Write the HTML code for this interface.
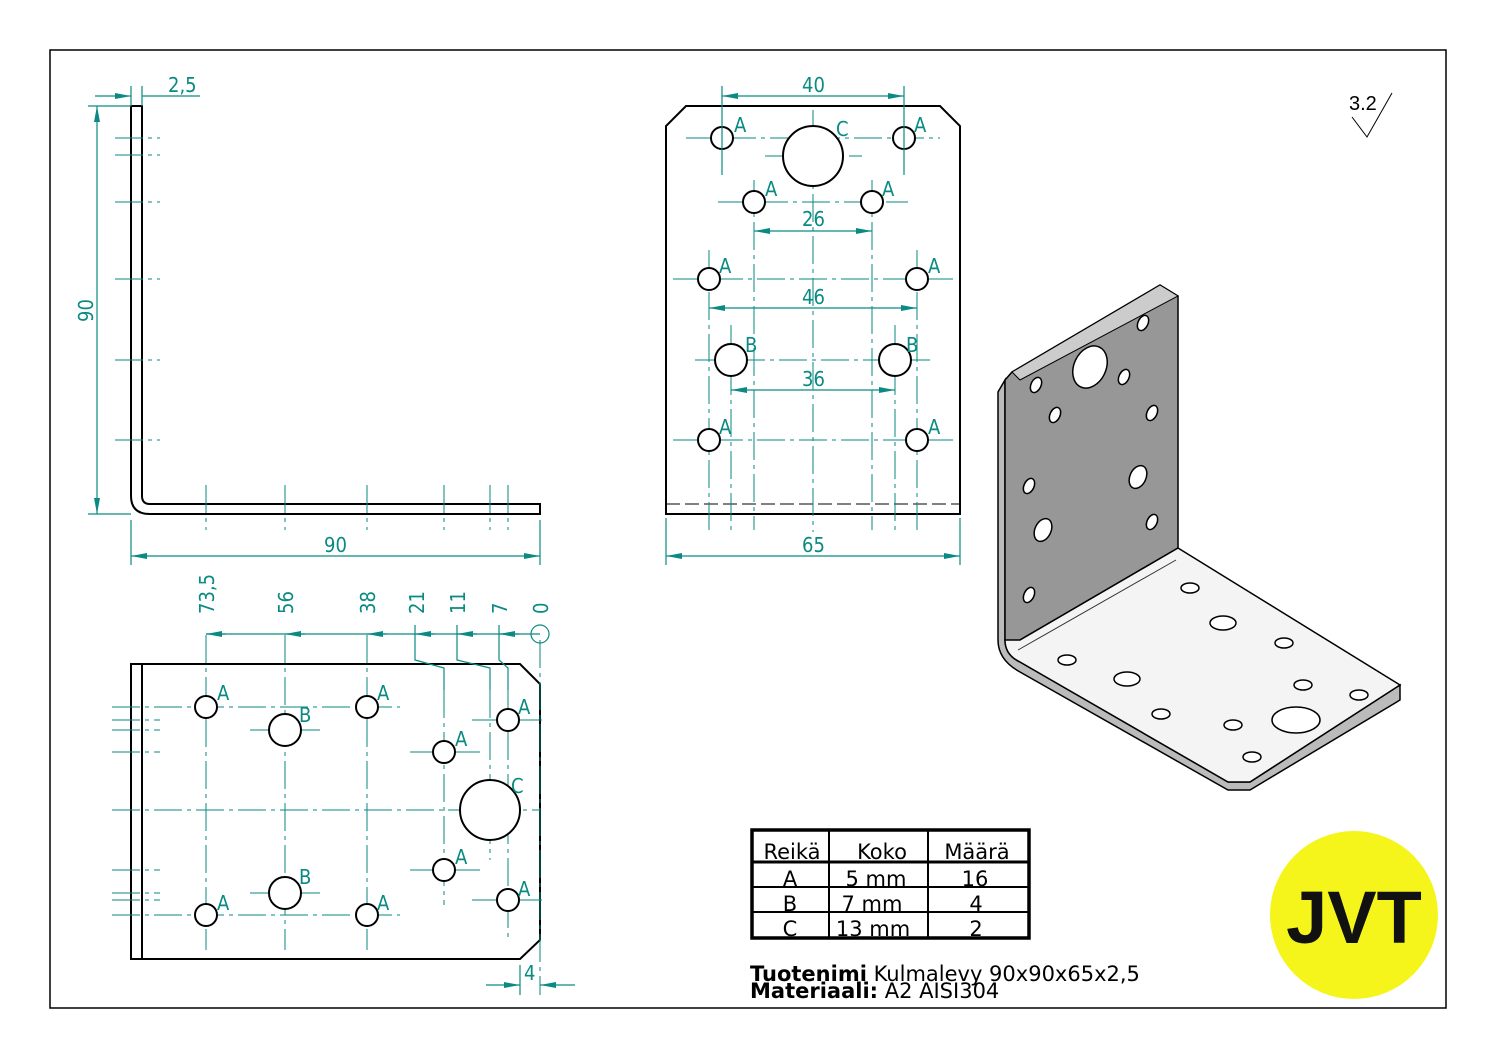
<!DOCTYPE html>
<html><head><meta charset="utf-8"><style>
html,body{margin:0;padding:0;background:#fff;}
svg{display:block;}
.t{font-family:"DejaVu Sans Condensed","Liberation Sans Narrow","Liberation Sans",sans-serif;fill:#0a8a82;font-size:20px;}
.d{stroke:#0a8a82;stroke-width:1.2;fill:none;}
.c{stroke:#0a8a82;stroke-width:1;fill:none;stroke-dasharray:28 5 4 5;}
.k{stroke:#000;stroke-width:2;fill:none;}
.h{stroke:#000;stroke-width:2;fill:#fff;}
.tb{font-family:"DejaVu Sans","Liberation Sans",sans-serif;font-size:21px;fill:#000;}
</style></head><body>
<svg width="1497" height="1058" viewBox="0 0 1497 1058" xmlns="http://www.w3.org/2000/svg">
<defs>
<marker id="a" viewBox="0 0 16 6" refX="16" refY="3" markerWidth="16" markerHeight="6" markerUnits="userSpaceOnUse" orient="auto-start-reverse"><path d="M0,0L16,3L0,6z" fill="#0a8a82"/></marker>
</defs>
<rect x="50" y="50" width="1396" height="958" fill="none" stroke="#000" stroke-width="1.5"/>

<!-- Side L view -->
<path class="k" d="M131,106 H142 V496 Q142,504 150,504 H540 V514 H150 Q131,514 131,496 Z"/>
<g class="d">
<line x1="97" y1="106" x2="97" y2="514" marker-start="url(#a)" marker-end="url(#a)"/>
<line x1="88" y1="106" x2="131" y2="106"/><line x1="88" y1="514" x2="131" y2="514"/>
<line x1="131" y1="556" x2="540" y2="556" marker-start="url(#a)" marker-end="url(#a)"/>
<line x1="131" y1="520" x2="131" y2="565"/><line x1="540" y1="520" x2="540" y2="565"/>
<line x1="131" y1="86" x2="131" y2="106"/><line x1="142" y1="86" x2="142" y2="106"/>
<line x1="95" y1="96" x2="131" y2="96" marker-end="url(#a)"/><line x1="142" y1="96" x2="200" y2="96"/>
</g>
<text class="t" x="168" y="92">2,5</text>
<text class="t" transform="translate(93,322) rotate(-90)">90</text>
<text class="t" x="324" y="552">90</text>
<g class="c">
<line x1="115" y1="138" x2="160" y2="138"/><line x1="115" y1="155" x2="160" y2="155"/><line x1="115" y1="202" x2="160" y2="202"/><line x1="115" y1="279" x2="160" y2="279"/><line x1="115" y1="360" x2="160" y2="360"/><line x1="115" y1="440" x2="160" y2="440"/>
<line x1="206" y1="485" x2="206" y2="530"/><line x1="285" y1="485" x2="285" y2="530"/><line x1="367" y1="485" x2="367" y2="530"/><line x1="444" y1="485" x2="444" y2="530"/><line x1="490" y1="485" x2="490" y2="530"/><line x1="508" y1="485" x2="508" y2="530"/>
</g>

<!-- Front view -->
<path class="k" d="M686,106 H940 L960,126 V514 H666 V126 Z"/>
<line x1="666" y1="504" x2="960" y2="504" stroke="#000" stroke-width="1" stroke-dasharray="14 5"/>
<g class="c">
<line x1="813" y1="110" x2="813" y2="532"/>
<line x1="686" y1="138" x2="940" y2="138"/><line x1="765" y1="156" x2="862" y2="156"/>
<line x1="718" y1="202" x2="908" y2="202"/><line x1="673" y1="279" x2="953" y2="279"/>
<line x1="695" y1="360" x2="930" y2="360"/><line x1="673" y1="440" x2="953" y2="440"/>
<line x1="709" y1="250" x2="709" y2="530"/><line x1="917" y1="250" x2="917" y2="530"/>
<line x1="731" y1="325" x2="731" y2="530"/><line x1="895" y1="325" x2="895" y2="530"/>
<line x1="754" y1="180" x2="754" y2="530"/><line x1="872" y1="180" x2="872" y2="530"/>
</g>
<g class="h">
<circle cx="722" cy="138" r="11"/><circle cx="904" cy="138" r="11"/><circle cx="813" cy="156" r="30"/>
<circle cx="754" cy="202" r="11"/><circle cx="872" cy="202" r="11"/>
<circle cx="709" cy="279" r="11"/><circle cx="917" cy="279" r="11"/>
<circle cx="731" cy="360" r="16"/><circle cx="895" cy="360" r="16"/>
<circle cx="709" cy="440" r="11"/><circle cx="917" cy="440" r="11"/>
</g>
<g class="d">
<line x1="722" y1="86" x2="722" y2="175"/><line x1="904" y1="86" x2="904" y2="175"/>
<line x1="722" y1="96" x2="904" y2="96" marker-start="url(#a)" marker-end="url(#a)"/>
<line x1="754" y1="231" x2="872" y2="231" marker-start="url(#a)" marker-end="url(#a)"/>
<line x1="709" y1="308" x2="917" y2="308" marker-start="url(#a)" marker-end="url(#a)"/>
<line x1="731" y1="390" x2="895" y2="390" marker-start="url(#a)" marker-end="url(#a)"/>
<line x1="666" y1="518" x2="666" y2="565"/><line x1="960" y1="518" x2="960" y2="565"/>
<line x1="666" y1="556" x2="960" y2="556" marker-start="url(#a)" marker-end="url(#a)"/>
</g>
<text class="t" x="802" y="92">40</text><text class="t" x="802" y="226">26</text><text class="t" x="802" y="304">46</text><text class="t" x="802" y="386">36</text><text class="t" x="802" y="552">65</text>
<g class="t" font-size="17"><text x="734" y="132">A</text><text x="914" y="132">A</text><text x="836" y="136">C</text><text x="765" y="196">A</text><text x="882" y="196">A</text><text x="719" y="273">A</text><text x="928" y="273">A</text><text x="745" y="352">B</text><text x="906" y="352">B</text><text x="719" y="434">A</text><text x="928" y="434">A</text></g>

<!-- Bottom view -->
<path class="k" d="M131,664 H520 L540,684 V940 L520,959 H131 Z"/>
<line x1="142" y1="664" x2="142" y2="959" stroke="#000" stroke-width="2"/>
<g class="c">
<line x1="206" y1="635" x2="206" y2="950"/><line x1="285" y1="635" x2="285" y2="950"/><line x1="367" y1="635" x2="367" y2="950"/>
<line x1="444" y1="690" x2="444" y2="905"/><line x1="490" y1="690" x2="490" y2="860"/><line x1="508" y1="690" x2="508" y2="940"/>
<line x1="540" y1="640" x2="540" y2="995"/>
<line x1="112" y1="707" x2="400" y2="707"/><line x1="112" y1="915" x2="400" y2="915"/>
<line x1="250" y1="730" x2="320" y2="730"/><line x1="250" y1="893" x2="320" y2="893"/>
<line x1="410" y1="752" x2="480" y2="752"/><line x1="410" y1="870" x2="480" y2="870"/>
<line x1="112" y1="810" x2="540" y2="810"/><line x1="472" y1="720" x2="543" y2="720"/><line x1="472" y1="900" x2="543" y2="900"/>
<line x1="112" y1="720" x2="160" y2="720"/><line x1="112" y1="730" x2="160" y2="730"/><line x1="112" y1="752" x2="160" y2="752"/><line x1="112" y1="870" x2="160" y2="870"/><line x1="112" y1="893" x2="160" y2="893"/><line x1="112" y1="900" x2="160" y2="900"/>
</g>
<g class="h">
<circle cx="206" cy="707" r="11"/><circle cx="367" cy="707" r="11"/><circle cx="285" cy="730" r="16"/><circle cx="285" cy="893" r="16"/>
<circle cx="206" cy="915" r="11"/><circle cx="367" cy="915" r="11"/><circle cx="444" cy="752" r="11"/><circle cx="444" cy="870" r="11"/>
<circle cx="490" cy="810" r="30"/><circle cx="508" cy="720" r="11"/><circle cx="508" cy="900" r="11"/>
</g>
<g class="d">
<line x1="540" y1="634" x2="206" y2="634"/>
<line x1="305" y1="634" x2="285" y2="634" marker-end="url(#a)"/><line x1="226" y1="634" x2="206" y2="634" marker-end="url(#a)"/>
<line x1="387" y1="634" x2="367" y2="634" marker-end="url(#a)"/><line x1="435" y1="634" x2="415" y2="634" marker-end="url(#a)"/>
<line x1="477" y1="634" x2="457" y2="634" marker-end="url(#a)"/><line x1="519" y1="634" x2="499" y2="634" marker-end="url(#a)"/>
<circle cx="540" cy="634" r="9"/>
<polyline points="415,625 415,660 444,668 444,690"/><polyline points="457,625 457,660 490,668 490,690"/><polyline points="499,625 499,660 508,668 508,690"/>
<line x1="520" y1="965" x2="520" y2="995"/>
<line x1="486" y1="985" x2="520" y2="985" marker-end="url(#a)"/><line x1="575" y1="985" x2="540" y2="985" marker-end="url(#a)"/>
</g>
<g class="t"><text transform="translate(214,614) rotate(-90)">73,5</text><text transform="translate(293,614) rotate(-90)">56</text><text transform="translate(375,614) rotate(-90)">38</text><text transform="translate(424,614) rotate(-90)">21</text><text transform="translate(465,614) rotate(-90)">11</text><text transform="translate(507,614) rotate(-90)">7</text><text transform="translate(548,614) rotate(-90)">0</text><text x="524" y="980">4</text></g>
<g class="t" font-size="17"><text x="217" y="700">A</text><text x="377" y="700">A</text><text x="299" y="722">B</text><text x="299" y="884">B</text><text x="217" y="910">A</text><text x="377" y="910">A</text><text x="455" y="746">A</text><text x="455" y="864">A</text><text x="511" y="793">C</text><text x="518" y="714">A</text><text x="518" y="896">A</text></g>

<!-- 3D -->
<path d="M1020,662 L1228,782 L1250,782 L1400,685 L1400,700 L1250,790 L1228,790 L1020,672 Q998,660 998,640 V392 L1005,380 V640 Q1005,655 1020,662Z" fill="#bbb" stroke="#000" stroke-width="1.5"/>
<path d="M1005,380 L1012,372 L1160,285 L1178,296 L1178,548 L1020,640 Q1008,645 1005,640 Z" fill="#979797" stroke="#000" stroke-width="1.5"/>
<path d="M1012,372 L1160,285 L1178,296 L1020,380 Z" fill="#ccc" stroke="#000" stroke-width="1"/>
<path d="M1178,548 L1400,685 L1250,782 L1228,782 L1020,662 Q1005,655 1005,640 Q1012,640 1020,640 Z" fill="#f4f4f4" stroke="#000" stroke-width="1.5"/>
<line x1="1018" y1="650" x2="1176" y2="560" stroke="#333" stroke-width="1"/>
<g fill="#fff" stroke="#000" stroke-width="1.5">
<ellipse cx="1143" cy="323" rx="5" ry="8" transform="rotate(25 1143 323)"/><ellipse cx="1090" cy="367" rx="16" ry="22" transform="rotate(25 1090 367)"/>
<ellipse cx="1036" cy="385" rx="5" ry="8" transform="rotate(25 1036 385)"/><ellipse cx="1124" cy="377" rx="5" ry="8" transform="rotate(25 1124 377)"/>
<ellipse cx="1055" cy="415" rx="5" ry="8" transform="rotate(25 1055 415)"/><ellipse cx="1152" cy="413" rx="5" ry="8" transform="rotate(25 1152 413)"/>
<ellipse cx="1029" cy="486" rx="5" ry="8" transform="rotate(25 1029 486)"/><ellipse cx="1138" cy="477" rx="8" ry="12" transform="rotate(25 1138 477)"/>
<ellipse cx="1043" cy="530" rx="8" ry="12" transform="rotate(25 1043 530)"/><ellipse cx="1152" cy="522" rx="5" ry="8" transform="rotate(25 1152 522)"/>
<ellipse cx="1029" cy="595" rx="5" ry="8" transform="rotate(25 1029 595)"/>
<ellipse cx="1190" cy="588" rx="9" ry="5"/><ellipse cx="1223" cy="623" rx="13" ry="7"/><ellipse cx="1284" cy="643" rx="9" ry="5"/>
<ellipse cx="1067" cy="660" rx="9" ry="5"/><ellipse cx="1127" cy="679" rx="13" ry="7"/><ellipse cx="1303" cy="685" rx="9" ry="5"/>
<ellipse cx="1161" cy="714" rx="9" ry="5"/><ellipse cx="1233" cy="725" rx="9" ry="5"/><ellipse cx="1296" cy="720" rx="24" ry="13"/>
<ellipse cx="1359" cy="695" rx="9" ry="5"/><ellipse cx="1252" cy="757" rx="9" ry="5"/>
</g>

<!-- roughness -->
<text x="1349" y="110" font-family="Liberation Sans,sans-serif" font-size="20" fill="#000">3.2</text>
<polyline points="1352,117 1367,137 1392,93" fill="none" stroke="#000" stroke-width="1"/>

<!-- table -->
<rect x="752" y="830" width="277" height="108" fill="none" stroke="#000" stroke-width="3.5"/>
<g stroke="#000" stroke-width="2"><line x1="829" y1="830" x2="829" y2="938"/><line x1="928" y1="830" x2="928" y2="938"/>
<line x1="752" y1="862" x2="1029" y2="862" stroke-width="3"/><line x1="752" y1="887" x2="1029" y2="887"/><line x1="752" y1="912" x2="1029" y2="912"/></g>
<g class="tb" text-anchor="middle"><text x="792" y="859">Reikä</text><text x="882" y="859">Koko</text><text x="977" y="859">Määrä</text>
<text x="790" y="886">A</text><text x="876" y="886">5 mm</text><text x="975" y="886">16</text>
<text x="790" y="911">B</text><text x="872" y="911">7 mm</text><text x="976" y="911">4</text>
<text x="790" y="936">C</text><text x="873" y="936">13 mm</text><text x="976" y="936">2</text></g>
<text class="tb" x="750" y="981"><tspan font-weight="bold">Tuotenimi</tspan> Kulmalevy 90x90x65x2,5</text>
<text class="tb" x="750" y="998"><tspan font-weight="bold">Materiaali:</tspan> A2 AISI304</text>

<circle cx="1354" cy="915" r="84" fill="#f5f51c"/>
<text x="1354" y="943" text-anchor="middle" font-family="Liberation Sans,sans-serif" font-weight="bold" font-size="74" fill="#111">JVT</text>
</svg>
</body></html>
